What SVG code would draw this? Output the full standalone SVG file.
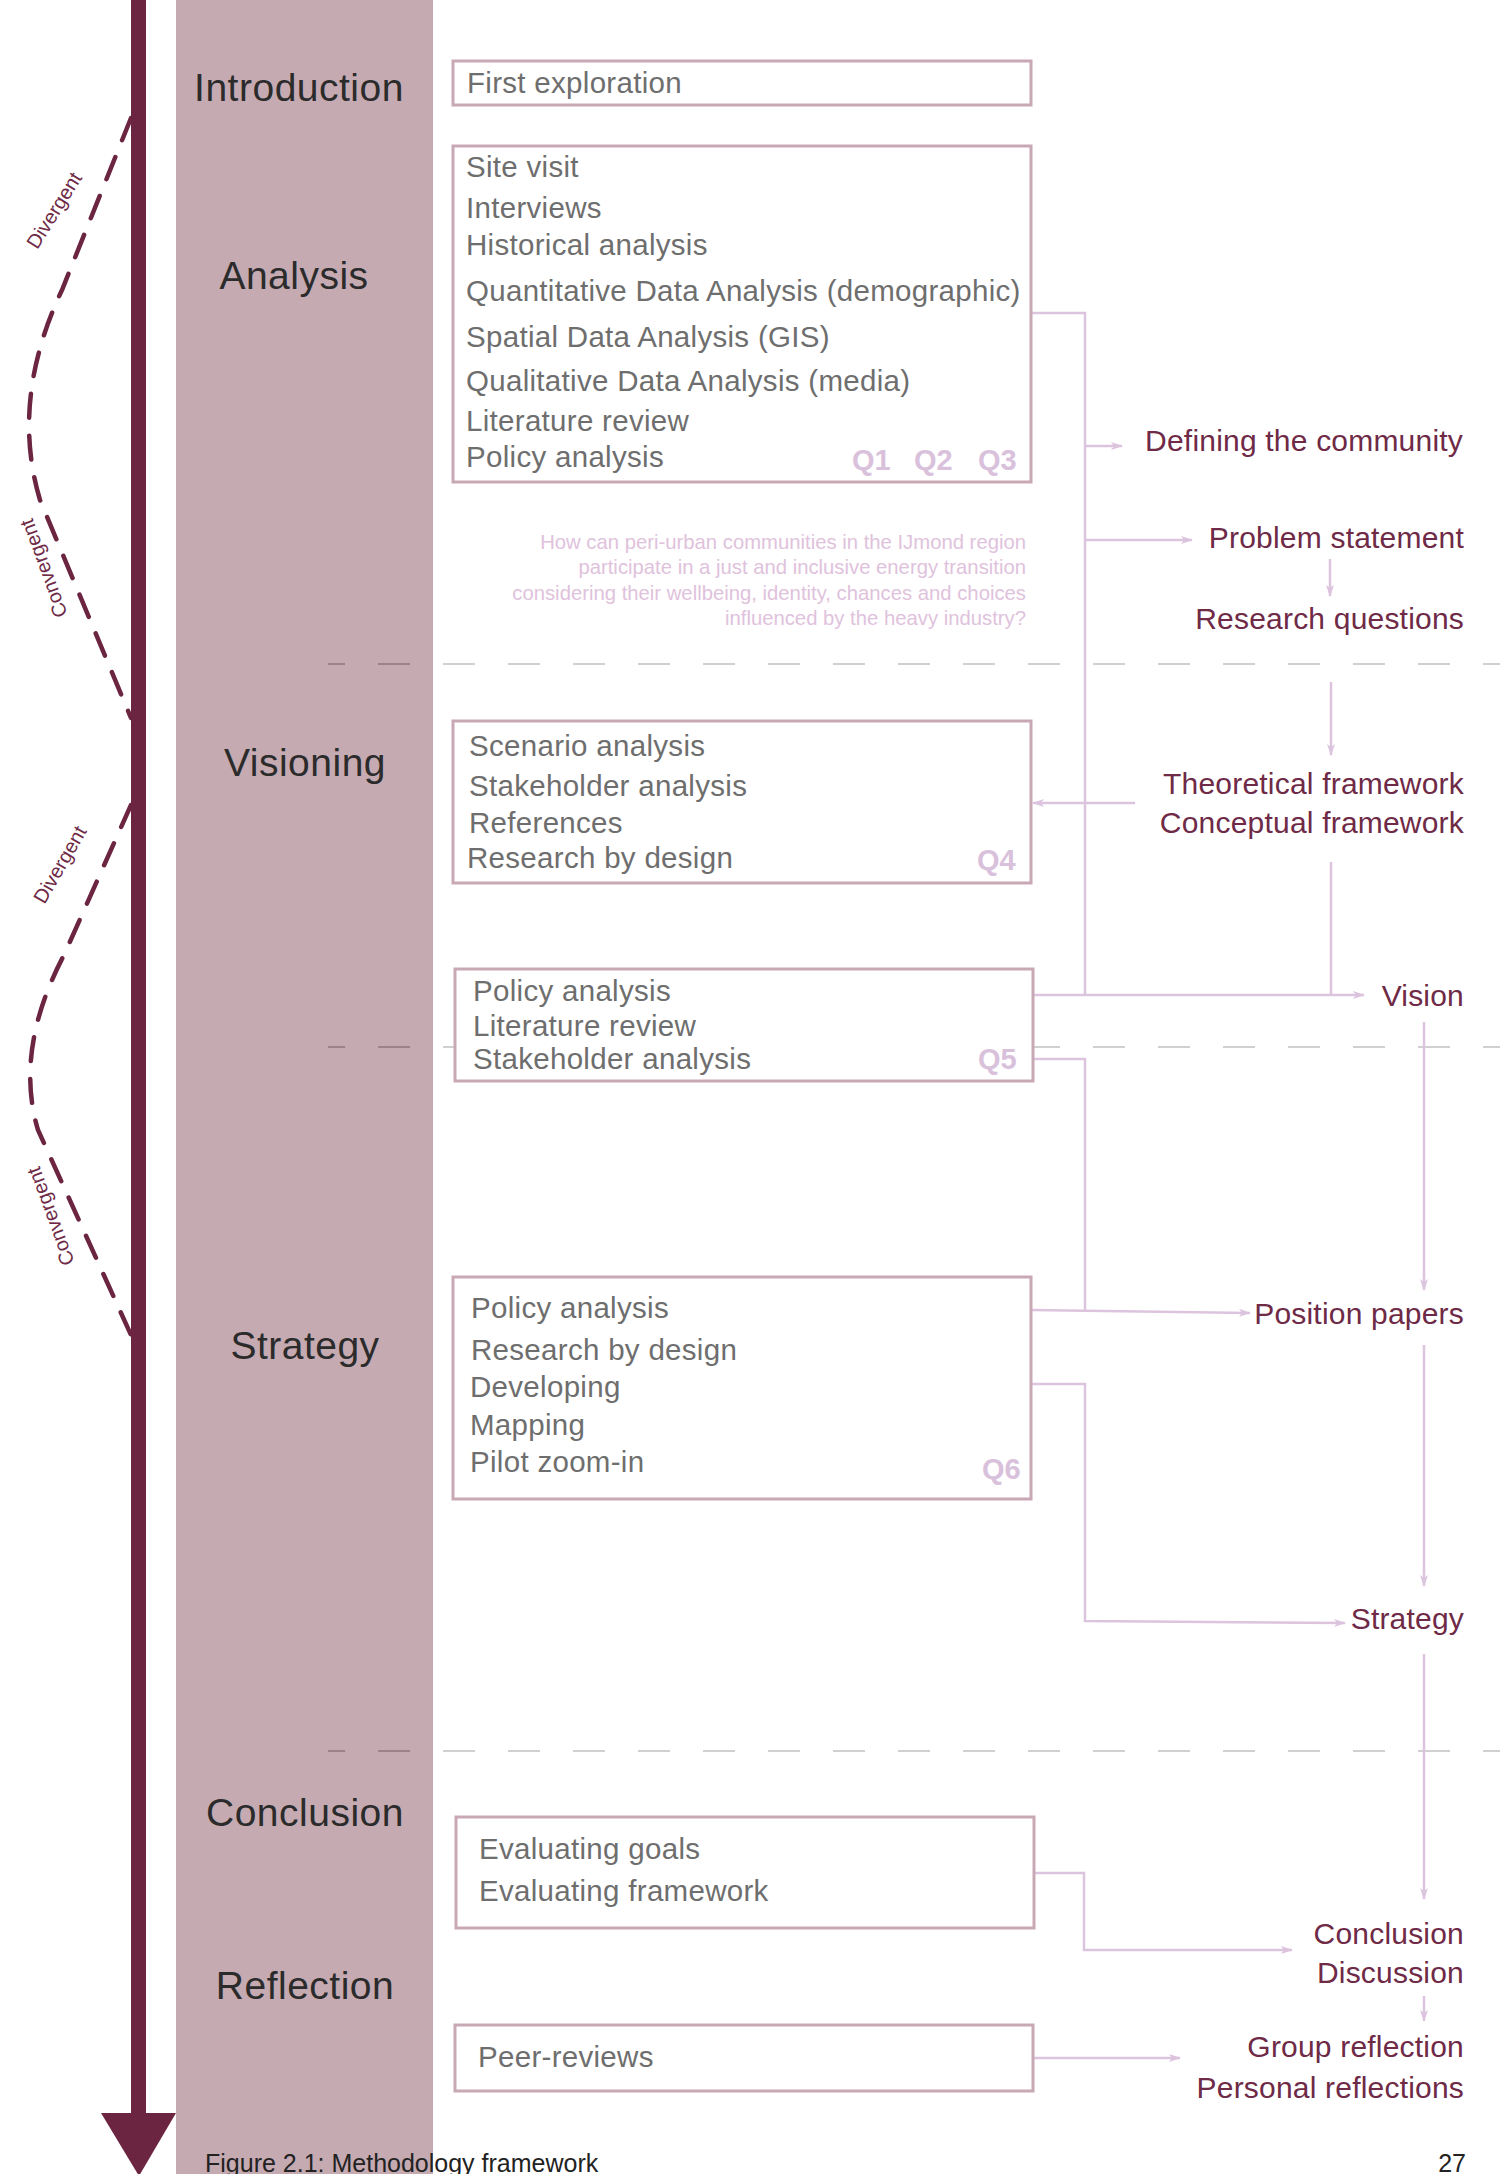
<svg xmlns="http://www.w3.org/2000/svg" width="1500" height="2174" viewBox="0 0 1500 2174">
<defs>
<style>
.phase{font-family:"Liberation Sans",Arial,sans-serif;font-size:39px;fill:#2b2b2b;text-anchor:middle;letter-spacing:0.5px}
.box{fill:#fff;stroke:#C9A8B5;stroke-width:3}
.bt{font-family:"Liberation Sans",Arial,sans-serif;font-size:29.5px;fill:#6e6e6e;letter-spacing:0.3px}
.q{font-family:"Liberation Sans",Arial,sans-serif;font-size:29px;font-weight:bold;fill:#D9C1DC}
.lab{font-family:"Liberation Sans",Arial,sans-serif;font-size:30px;fill:#6E2A46;text-anchor:end;letter-spacing:0.2px}
.rq{font-family:"Liberation Sans",Arial,sans-serif;font-size:20.3px;fill:#E0C2DC;text-anchor:end}
.dg{font-family:"Liberation Sans",Arial,sans-serif;font-size:20px;fill:#6E2A46;text-anchor:middle}
.con{fill:none;stroke:#DCC4DF;stroke-width:2.5}
.arr{fill:none;stroke:#DCC4DF;stroke-width:2.5;marker-end:url(#ah)}
.sepIn{stroke:#9C838B;stroke-width:2;stroke-dasharray:32 33}
.sepOut{stroke:#D0D0D0;stroke-width:2;stroke-dasharray:32 33}
.curve{fill:none;stroke:#6B2540;stroke-width:4.5;stroke-dasharray:24 18;stroke-linecap:round}
.foot{font-family:"Liberation Sans",Arial,sans-serif;font-size:25px;fill:#222}
</style>
<marker id="ah" markerWidth="12" markerHeight="10" refX="11" refY="5" orient="auto" markerUnits="userSpaceOnUse">
<path d="M0,1 L12,5 L0,9 L3,5 z" fill="#DCC4DF"/>
</marker>
</defs>
<rect width="1500" height="2174" fill="#fff"/>
<!-- pink column -->
<rect x="176" y="0" width="257" height="2174" fill="#C5AAB2"/>
<!-- separators -->
<g id="separators">
<line class="sepIn" x1="328" y1="664" x2="433" y2="664" stroke-dashoffset="15"/>
<line class="sepOut" x1="433" y1="664" x2="1500" y2="664" stroke-dashoffset="-10"/>
<line class="sepIn" x1="328" y1="1047" x2="433" y2="1047" stroke-dashoffset="15"/>
<line class="sepOut" x1="433" y1="1047" x2="1500" y2="1047" stroke-dashoffset="-10"/>
<line class="sepIn" x1="328" y1="1751" x2="433" y2="1751" stroke-dashoffset="15"/>
<line class="sepOut" x1="433" y1="1751" x2="1500" y2="1751" stroke-dashoffset="-10"/>
</g>
<!-- main arrow -->
<g id="timeline">
<rect x="131" y="0" width="15" height="2115" fill="#6B2540"/>
<polygon points="101,2113 176,2113 139,2176" fill="#6B2540"/>
<path class="curve" d="M131,118 L62,290 Q10,400 40,500 L131,718"/>
<path class="curve" d="M131,805 L64,955 Q14,1050 38,1130 L131,1335"/>
<text class="dg" transform="translate(60,214) rotate(-58)">Divergent</text>
<text class="dg" transform="translate(50,566) rotate(-110)">Convergent</text>
<text class="dg" transform="translate(66,868) rotate(-60)">Divergent</text>
<text class="dg" transform="translate(57,1214) rotate(-110)">Convergent</text>
</g>
<!-- phase labels -->
<g id="phases">
<text class="phase" x="299" y="101">Introduction</text>
<text class="phase" x="294" y="289">Analysis</text>
<text class="phase" x="305" y="776">Visioning</text>
<text class="phase" x="305" y="1359">Strategy</text>
<text class="phase" x="305" y="1826">Conclusion</text>
<text class="phase" x="305" y="1999">Reflection</text>
</g>
<!-- connectors -->
<g id="connectors">
<path class="con" d="M1031,313 H1085 V995"/>
<path class="arr" d="M1085,446 H1122"/>
<path class="arr" d="M1085,540 H1192"/>
<path class="arr" d="M1330,559 V596"/>
<path class="arr" d="M1331,682 V755"/>
<path class="arr" d="M1135,803 H1033"/>
<path class="con" d="M1331,862 V995"/>
<path class="arr" d="M1033,995 H1364"/>
<path class="arr" d="M1424,1022 V1290"/>
<path class="con" d="M1033,1059 H1085 V1311"/>
<path class="arr" d="M1031,1310 L1250,1313"/>
<path class="arr" d="M1031,1384 H1085 V1621 L1345,1623"/>
<path class="arr" d="M1424,1345 V1586"/>
<path class="arr" d="M1424,1654 V1899"/>
<path class="arr" d="M1034,1873 H1084 V1950 H1292"/>
<path class="arr" d="M1424,1996 V2021"/>
<path class="arr" d="M1033,2058 H1180"/>
</g>
<!-- boxes -->
<g id="n-first">
<rect class="box" x="453" y="61" width="578" height="44"/>
<text class="bt" x="467" y="93">First exploration</text>
</g>
<g id="n-analysis">
<rect class="box" x="453" y="146" width="578" height="336"/>
<text class="bt" x="466" y="177">Site visit</text>
<text class="bt" x="466" y="218">Interviews</text>
<text class="bt" x="466" y="255">Historical analysis</text>
<text class="bt" x="466" y="301">Quantitative Data Analysis (demographic)</text>
<text class="bt" x="466" y="347">Spatial Data Analysis (GIS)</text>
<text class="bt" x="466" y="391">Qualitative Data Analysis (media)</text>
<text class="bt" x="466" y="431">Literature review</text>
<text class="bt" x="466" y="467">Policy analysis</text>
<text class="q" x="852" y="470">Q1</text>
<text class="q" x="914" y="470">Q2</text>
<text class="q" x="978" y="470">Q3</text>
</g>
<g id="n-question">
<text class="rq" x="1026" y="549">How can peri-urban communities in the IJmond region</text>
<text class="rq" x="1026" y="574">participate in a just and inclusive energy transition</text>
<text class="rq" x="1026" y="600">considering their wellbeing, identity, chances and choices</text>
<text class="rq" x="1026" y="625">influenced by the heavy industry?</text>
</g>
<g id="n-vis1">
<rect class="box" x="453" y="721" width="578" height="162"/>
<text class="bt" x="469" y="756">Scenario analysis</text>
<text class="bt" x="469" y="796">Stakeholder analysis</text>
<text class="bt" x="469" y="833">References</text>
<text class="bt" x="467" y="868">Research by design</text>
<text class="q" x="977" y="870">Q4</text>
</g>
<g id="n-vis2">
<rect class="box" x="455" y="969" width="578" height="112"/>
<text class="bt" x="473" y="1001">Policy analysis</text>
<text class="bt" x="473" y="1036">Literature review</text>
<text class="bt" x="473" y="1069">Stakeholder analysis</text>
<text class="q" x="978" y="1069">Q5</text>
</g>
<g id="n-strategy">
<rect class="box" x="453" y="1277" width="578" height="222"/>
<text class="bt" x="471" y="1318">Policy analysis</text>
<text class="bt" x="471" y="1360">Research by design</text>
<text class="bt" x="470" y="1397">Developing</text>
<text class="bt" x="470" y="1435">Mapping</text>
<text class="bt" x="470" y="1472">Pilot zoom-in</text>
<text class="q" x="982" y="1479">Q6</text>
</g>
<g id="n-conclusion">
<rect class="box" x="456" y="1817" width="578" height="111"/>
<text class="bt" x="479" y="1859">Evaluating goals</text>
<text class="bt" x="479" y="1901">Evaluating framework</text>
</g>
<g id="n-reflection">
<rect class="box" x="455" y="2025" width="578" height="66"/>
<text class="bt" x="478" y="2067">Peer-reviews</text>
</g>
<!-- outcome labels -->
<g id="n-defining"><text class="lab" x="1463" y="451">Defining the community</text></g>
<g id="n-problem"><text class="lab" x="1464" y="548">Problem statement</text></g>
<g id="n-rq"><text class="lab" x="1464" y="629">Research questions</text></g>
<g id="n-framework">
<text class="lab" x="1464" y="794">Theoretical framework</text>
<text class="lab" x="1464" y="833">Conceptual framework</text>
</g>
<g id="n-vision"><text class="lab" x="1464" y="1006">Vision</text></g>
<g id="n-position"><text class="lab" x="1464" y="1324">Position papers</text></g>
<g id="n-strat"><text class="lab" x="1464" y="1629">Strategy</text></g>
<g id="n-concl">
<text class="lab" x="1464" y="1944">Conclusion</text>
<text class="lab" x="1464" y="1983">Discussion</text>
</g>
<g id="n-refl">
<text class="lab" x="1464" y="2057">Group reflection</text>
<text class="lab" x="1464" y="2098">Personal reflections</text>
</g>
<!-- footer -->
<g id="footer">
<text class="foot" x="205" y="2172">Figure 2.1: Methodology framework</text>
<text class="foot" x="1466" y="2172" text-anchor="end">27</text>
</g>
</svg>
